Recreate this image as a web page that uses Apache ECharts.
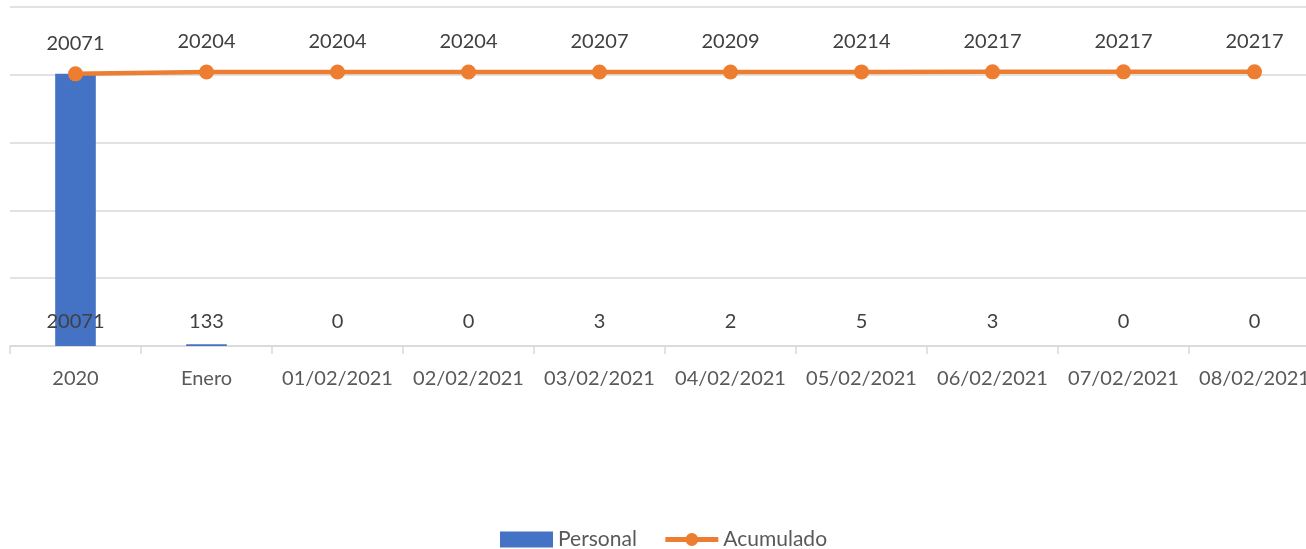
<!DOCTYPE html>
<html>
<head>
<meta charset="utf-8">
<script src="https://cdn.jsdelivr.net/npm/echarts@6/dist/echarts.min.js"></script>
<style>html,body{margin:0;padding:0;background:#fff;overflow:hidden;width:1306px;height:549px}#c{width:1320px;height:549px}</style>
</head>
<body>
<div id="c"></div>
<script>
const categories = ["2020","Enero","01/02/2021","02/02/2021","03/02/2021","04/02/2021","05/02/2021","06/02/2021","07/02/2021","08/02/2021"];
const personal = [20071,133,0,0,3,2,5,3,0,0];
const acumulado = [20071,20204,20204,20204,20207,20209,20214,20217,20217,20217];
const FONT = "Lato, 'Liberation Sans', sans-serif";
const chart = echarts.init(document.getElementById('c'));
chart.setOption({
  animation:false,
  textStyle:{fontFamily:FONT},
  grid:{left:10,right:0,top:7,bottom:203,containLabel:false},
  xAxis:{type:'category',data:categories,
    axisLine:{lineStyle:{color:'#d9d9d9',width:1.5}},
    axisTick:{show:true,length:8,lineStyle:{color:'#d9d9d9',width:1.5}},
    axisLabel:{color:'#595959',fontSize:20,margin:23,interval:0,fontFamily:FONT}},
  yAxis:{type:'value',min:0,max:25000,interval:5000,
    axisLabel:{show:false},axisLine:{show:false},axisTick:{show:false},
    splitLine:{lineStyle:{color:'#d9d9d9',width:1.5}}},
  legend:{top:524,left:495,itemWidth:53,itemHeight:16,itemGap:26,
    textStyle:{color:'#595959',fontSize:21,fontFamily:FONT},
    data:[{name:'Personal',icon:'rect'},{name:'Acumulado',lineStyle:{width:5}}]},
  series:[
    {name:'Personal',type:'bar',data:personal,barWidth:'31%',
     itemStyle:{color:'#4472c4'},
     label:{show:true,position:'insideBottom',distance:14,color:'#404040',fontSize:20,fontFamily:FONT}},
    {name:'Acumulado',type:'line',data:acumulado,symbol:'circle',symbolSize:15,
     lineStyle:{color:'#ed7d31',width:4.5},itemStyle:{color:'#ed7d31'},
     label:{show:true,position:'top',distance:13,color:'#404040',fontSize:20,fontFamily:FONT}}
  ]
});
</script>
</body>
</html>
